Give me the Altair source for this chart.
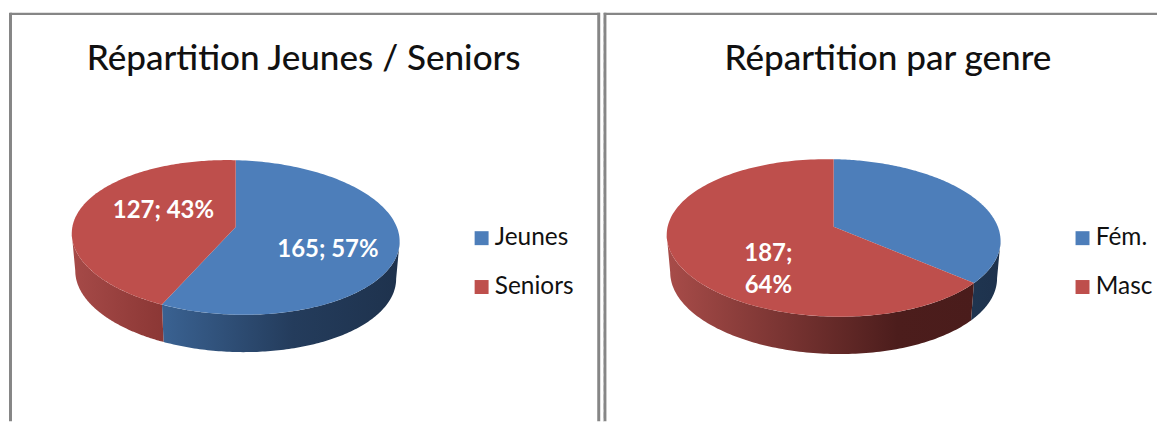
import numpy as np
import pandas as pd
import altair as alt

# --- values ---
CATS_A = ["Jeunes", "Seniors"]
VALS_A = [165, 127]
CATS_B = ["Fém.", "Masc"]
VALS_B = [105, 187]
TITLE_A = "Répartition Jeunes / Seniors"
TITLE_B = "Répartition par genre"
LABELS_A = ["165; 57%", "127; 43%"]
LABELS_B = [["187;", "64%"]]
BLUE = "#4D7EBA"
RED = "#BE4F4C"
FONT = "Lato"
BORDER = "#868686"
H = 414


def grad(stops):
    return alt.LinearGradient(
        gradient="linear", x1=0, x2=1, y1=0, y2=0,
        stops=[alt.GradientStop(offset=o, color=c) for o, c in stops],
    )


def ellipse(phi, g, dy=0.0, shrink=0.0):
    u, v = np.sin(phi), np.cos(phi)
    x = g["cx"] + (g["rx"] - shrink) * u
    y = g["cy"] + dy - g["ry"] * v + g["tilt"] * u
    return x, y


def persp(theta, a):
    """Perspective seen from the tilted camera: true angle -> drawn angle."""
    u, v = np.sin(theta), np.cos(theta)
    d = 1 + a * v
    return np.arctan2(u * np.sqrt(1 - a * a) / d, (v + a) / d) % (2 * np.pi)


def panel(cats, vals, title, width, g, legend_x, title_dx, text_layers, wall_fill, is_left):
    total = sum(vals)
    a = (g["cy"] - g["ay"]) / g["ry"]
    tops, walls = [], []
    start = 0.0
    for k, (c, v) in enumerate(zip(cats, vals)):
        end = start + v / total * 2 * np.pi
        p0 = persp(np.array(start), a)
        p1 = persp(np.array(end), a) if k < len(vals) - 1 else 2 * np.pi
        phi = np.linspace(p0, p1, 180)
        x, y = ellipse(phi, g)
        xs = np.r_[g["cx"], x]
        ys = np.r_[g["ay"], y]
        tops.append(pd.DataFrame({"name": c, "i": range(len(xs)), "x": xs, "y": ys}))
        lo, hi = max(p0, np.pi / 2), min(p1, 3 * np.pi / 2)
        if hi > lo:
            ph = np.linspace(lo, hi, 120)
            x1, y1 = ellipse(ph, g)
            x2, y2 = ellipse(ph[::-1], g, dy=g["depth"], shrink=g["shrink"])
            wx, wy = np.r_[x1, x2], np.r_[y1, y2]
            walls.append((c, pd.DataFrame({"i": range(len(wx)), "x": wx, "y": wy})))
        start = end

    xs = alt.X("x:Q", axis=None, scale=alt.Scale(domain=[0, width], nice=False, zero=False))
    ys = alt.Y("y:Q", axis=None, scale=alt.Scale(domain=[H, 0], nice=False, zero=False))

    layers = []
    for c, df in walls:
        layers.append(
            alt.Chart(df).mark_line(fill=grad(wall_fill[c]), strokeWidth=0, stroke=None, interpolate="linear")
            .encode(x=xs, y=ys, order="i:Q")
        )
    top = alt.Chart(pd.concat(tops)).mark_line(strokeWidth=0, filled=True).encode(
        x=xs, y=ys, order="i:Q",
        fill=alt.Fill(
            "name:N",
            scale=alt.Scale(domain=cats, range=[BLUE, RED]),
            legend=alt.Legend(
                title=None, orient="none", legendX=legend_x, legendY=218,
                symbolType="square", symbolSize=196, symbolStrokeWidth=0,
                labelFont=FONT, labelFontSize=24.5, labelColor="#111111",
                labelOffset=1, rowPadding=24, labelLimit=200,
            ),
        ),
    )
    layers.append(top)
    layers += text_layers

    # frame: left, top and right edges of each chart box
    frame = pd.DataFrame({"a": [0]})
    layers.append(alt.Chart(frame).mark_rule(color=BORDER, strokeWidth=3).encode(
        x=alt.value(1.5 if is_left else 2), y=alt.value(4), y2=alt.value(H)))
    layers.append(alt.Chart(frame).mark_rule(color=BORDER, strokeWidth=2.4).encode(
        x=alt.value(1), x2=alt.value(width - 1), y=alt.value(5.2)))
    if is_left:
        layers.append(alt.Chart(frame).mark_rule(color=BORDER, strokeWidth=3).encode(
            x=alt.value(width - 2.2), y=alt.value(4), y2=alt.value(H)))
    else:
        layers.append(alt.Chart(frame).mark_rule(color="#C8C8C8", strokeWidth=1, strokeDash=[3, 6]).encode(
            x=alt.value(0.5), y=alt.value(6), y2=alt.value(H)))

    return alt.layer(*layers).properties(
        width=width, height=H,
        title=alt.TitleParams(
            title, font=FONT, fontSize=35.2, fontWeight=500, color="#111111",
            anchor="start", frame="group", dx=title_dx, offset=-69,
        ),
    )


def text_mark(text, x, y, size=24):
    return alt.Chart(pd.DataFrame({"t": [text]})).mark_text(
        font=FONT, fontSize=size, fontWeight="bold", color="white", align="center", baseline="middle"
    ).encode(text="t:N", x=alt.value(x), y=alt.value(y))


GEOM_A = dict(cx=227.5, cy=229.5, ay=219, rx=164.5, ry=77.5, tilt=4, depth=37.5, shrink=3.5)
GEOM_B = dict(cx=231.5, cy=230, ay=218.7, rx=167.5, ry=79, tilt=3, depth=37.5, shrink=3.5)

WALL_A = {
    "Jeunes": [(0, "#3A6292"), (0.55, "#243C5C"), (1, "#1E324D")],
    "Seniors": [(0, "#A64A48"), (1, "#8B3735")],
}
WALL_B = {
    "Fém.": [(0, "#1F3550"), (1, "#1E324D")],
    "Masc": [(0, "#A84C49"), (0.75, "#4C1D1C"), (1, "#4A1C1B")],
}

left = panel(
    CATS_A, VALS_A, TITLE_A, 594, GEOM_A, 462, 78,
    [text_mark(LABELS_A[0], 320, 242), text_mark(LABELS_A[1], 155, 203)],
    WALL_A, True,
)
right = panel(
    CATS_B, VALS_B, TITLE_B, 557, GEOM_B, 469, 122,
    [text_mark(LABELS_B[0][0], 166, 246), text_mark(LABELS_B[0][1], 166, 278)],
    WALL_B, False,
)

chart = (
    alt.hconcat(left, right, spacing=0)
    .resolve_scale(fill="independent", x="independent", y="independent")
    .resolve_legend(fill="independent")
    .configure_view(stroke=None)
    .properties(padding=0, background="white")
)
chart.save("out.html", embed_options={"renderer": "svg", "actions": False})
